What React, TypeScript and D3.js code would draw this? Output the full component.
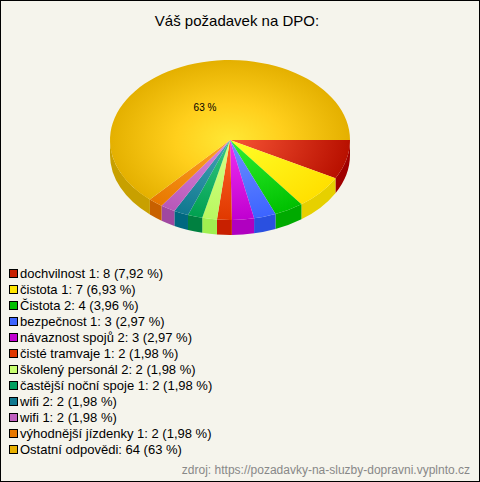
import React from "react";
import * as d3 from "d3";

const categories = ["dochvilnost 1","čistota 1","Čistota 2","bezpečnost 1","návaznost spojů 2","čisté tramvaje 1","školený personál 2","častější noční spoje 1","wifi 2","wifi 1","výhodnější jízdenky 1","Ostatní odpovědi"];
const values = [8,7,4,3,3,2,2,2,2,2,2,64];
const percents = ["7,92 %","6,93 %","3,96 %","2,97 %","2,97 %","1,98 %","1,98 %","1,98 %","1,98 %","1,98 %","1,98 %","63 %"];
const innerColors = ["#f85535","#ffff28","#30f030","#6e90ff","#f030f0","#ff6428","#d8ff88","#35c885","#45a5b5","#d888e0","#ffa428","#ffe835"];
const outerColors = ["#b81000","#ffe000","#00c000","#3c64ff","#c000d0","#e03800","#b8f860","#00a050","#107890","#b858b8","#e87800","#e4b000"];
const wallColors = ["#a00000","#e6d000","#00aa00","#2a50e0","#b000c0","#c82000","#a0f050","#008040","#006880","#a048a0","#c86000","#c8a000"];
const legendColors = ["#c82000","#ffe600","#00c000","#3c64ff","#c000d0","#e03800","#c8ff70","#00a060","#107890","#c060c0","#e87800","#e8b000"];

const width = 480, height = 482;
const cx = 230, cy = 140, rx = 120, ry = 80, depth = 15;
const sans = "'Liberation Sans', Arial, sans-serif";

const pie = d3.pie<number>().sort(null).startAngle(Math.PI / 2).endAngle(Math.PI * 2.5);
const arcs = pie(values);
const sx = d3.scaleLinear().domain([-1, 1]).range([cx - rx, cx + rx]);
const sy = d3.scaleLinear().domain([-1, 1]).range([cy - ry, cy + ry]);
const X = (a: number) => sx(Math.sin(a));
const Y = (a: number) => sy(-Math.cos(a));
const TOP = (s: d3.PieArcDatum<number>) =>
  `M${cx},${cy}L${X(s.startAngle)},${Y(s.startAngle)}A${rx},${ry} 0 ${s.endAngle - s.startAngle > Math.PI ? 1 : 0} 1 ${X(s.endAngle)},${Y(s.endAngle)}Z`;
const WALL = (s: d3.PieArcDatum<number>) => {
  const a0 = Math.max(s.startAngle, Math.PI / 2);
  const a1 = Math.min(s.endAngle, Math.PI * 1.5);
  if (a1 <= a0) return "";
  return `M${X(a0)},${Y(a0)}A${rx},${ry} 0 0 1 ${X(a1)},${Y(a1)}L${X(a1)},${Y(a1) + depth}A${rx},${ry} 0 0 0 ${X(a0)},${Y(a0) + depth}Z`;
};

export default function App() {
  return (
    <svg width={width} height={height} style={{ position: "absolute", left: 0, top: 0, display: "block" }} fontFamily={sans}>
      <defs>
        {innerColors.map((c, i) => (
          <radialGradient key={i} id={`g${i}`} gradientUnits="userSpaceOnUse" cx={0} cy={0} r={1}
            gradientTransform={`translate(${cx},${cy}) scale(${rx},${ry})`}>
            <stop offset="0" stopColor={c} />
            {i === 11 && <stop offset="0.45" stopColor="#ffcf1c" />}
            <stop offset="1" stopColor={outerColors[i]} />
          </radialGradient>
        ))}
      </defs>
      <rect x={0.5} y={0.5} width={width - 1} height={height - 1} fill="#f5f4ec" stroke="#000" />
      <text x={237} y={26} textAnchor="middle" fontSize={15}>Váš požadavek na DPO:</text>
      {arcs.map((s, i) => <path key={i} d={WALL(s)} fill={wallColors[i]} />)}
      {arcs.map((s, i) => <path key={i} d={TOP(s)} fill={`url(#g${i})`} />)}
      <text x={205} y={111} textAnchor="middle" fontSize={10}>63 %</text>
      {categories.map((c, i) => (
        <g key={i} transform={`translate(0,${274 + i * 16})`}>
          <rect x={9.5} y={-4.5} width={8} height={8} fill={legendColors[i]} stroke="#000" />
          <text x={20} y={4} fontSize={13}>{`${c}: ${values[i]} (${percents[i]})`}</text>
        </g>
      ))}
      <text x={470} y={474} textAnchor="end" fontSize={12} fill="#888">zdroj: https://pozadavky-na-sluzby-dopravni.vyplnto.cz</text>
    </svg>
  );
}
